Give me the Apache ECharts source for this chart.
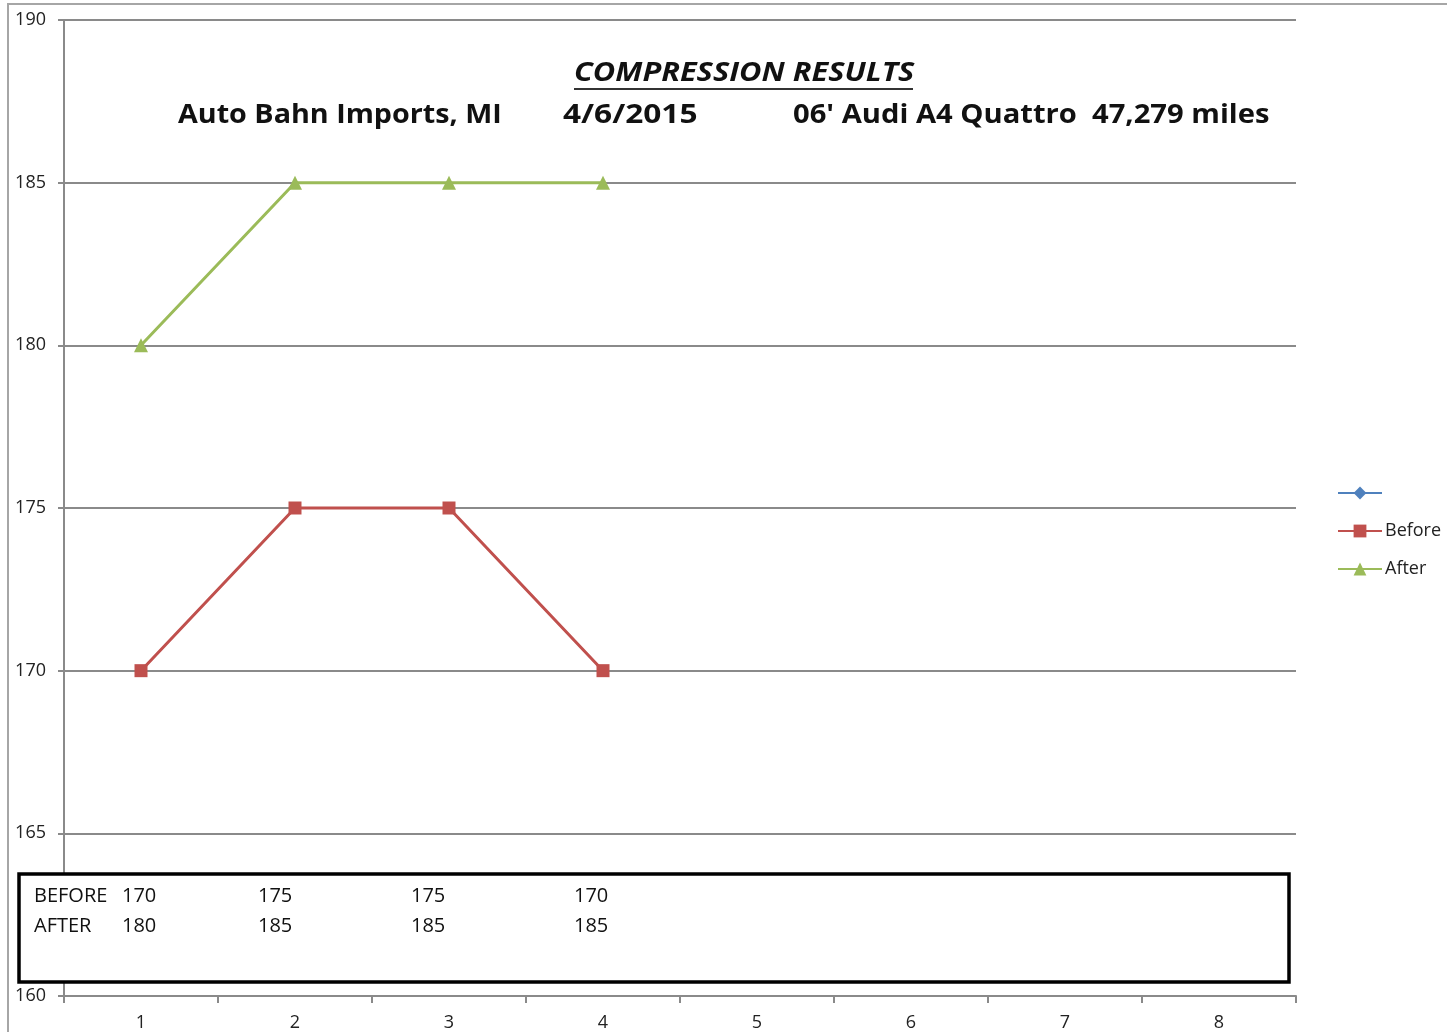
<!DOCTYPE html>
<html>
<head>
<meta charset="utf-8">
<script src="https://cdn.jsdelivr.net/npm/echarts@6/dist/echarts.min.js"></script>
<style>
  html, body { margin: 0; padding: 0; background: #fff; }
  #chart { width: 1447px; height: 1032px; }
</style>
</head>
<body>
<div id="chart"></div>
<script>
// chart data
const cylinders = ['1', '2', '3', '4', '5', '6', '7', '8'];
const beforeVals = [170, 175, 175, 170, null, null, null, null];
const afterVals = [180, 185, 185, 185, null, null, null, null];
const blankVals = [null, null, null, null, null, null, null, null];
const yTicks = { min: 160, max: 190, step: 5 };

const FONT = '"Open Sans", Lato, sans-serif';
const RED = '#C0504D', GREEN = '#9BBB59', BLUE = '#4F81BD';
const GRID = '#8a8a8a';

let myChart = echarts.init(document.getElementById('chart'));

// text of the table box under the plot
const colX = [122, 258, 411, 574];
const tfont = '20px ' + FONT;
let tableText = [
  { type: 'text', x: 34, y: 896, z: 21, style: { text: 'BEFORE', font: tfont, fill: '#111', textVerticalAlign: 'middle' } },
  { type: 'text', x: 34, y: 926, z: 21, style: { text: 'AFTER', font: tfont, fill: '#111', textVerticalAlign: 'middle' } }
];
beforeVals.forEach((v, i) => {
  if (v == null) return;
  tableText.push({ type: 'text', x: colX[i], y: 896, z: 21, style: { text: String(v), font: tfont, fill: '#111', textVerticalAlign: 'middle' } });
});
afterVals.forEach((v, i) => {
  if (v == null) return;
  tableText.push({ type: 'text', x: colX[i], y: 926, z: 21, style: { text: String(v), font: tfont, fill: '#111', textVerticalAlign: 'middle' } });
});

function heading(txt, x, y, sx, italic) {
  return {
    type: 'text', x: x, y: y, z: 10, scaleX: sx,
    style: { text: txt, font: (italic ? 'italic ' : '') + 'bold 27px ' + FONT, fill: '#111', textVerticalAlign: 'middle' }
  };
}

let option = {
  animation: false,
  backgroundColor: '#fff',
  grid: { left: 64, right: 151, top: 20, bottom: 36, containLabel: false },
  legend: {
    orient: 'vertical',
    left: 1332,
    top: 479,
    itemWidth: 44,
    itemHeight: 16,
    itemGap: 20,
    textStyle: { fontFamily: FONT, fontSize: 18, lineHeight: 16, color: '#222', padding: [0, 0, 0, -2] },
    data: [' ', 'Before', 'After']
  },
  xAxis: {
    type: 'category',
    data: cylinders,
    boundaryGap: true,
    axisLine: { lineStyle: { color: GRID, width: 2 } },
    axisTick: { show: true, length: 7, lineStyle: { color: GRID, width: 2 } },
    axisLabel: { fontFamily: FONT, fontSize: 18, color: '#222', margin: 18 }
  },
  yAxis: {
    type: 'value',
    min: yTicks.min,
    max: yTicks.max,
    interval: yTicks.step,
    axisLine: { show: true, lineStyle: { color: GRID, width: 2 } },
    axisTick: { show: true, length: 6, lineStyle: { color: GRID, width: 2 } },
    axisLabel: { fontFamily: FONT, fontSize: 18, color: '#222', margin: 18 },
    splitLine: { lineStyle: { color: GRID, width: 2 } }
  },
  series: [
    {
      name: ' ', type: 'line', data: blankVals,
      symbol: 'diamond', symbolSize: 11,
      itemStyle: { color: BLUE }, lineStyle: { color: BLUE, width: 3 }
    },
    {
      name: 'Before', type: 'line', data: beforeVals,
      symbol: 'rect', symbolSize: 13,
      itemStyle: { color: RED }, lineStyle: { color: RED, width: 3 }, z: 3
    },
    {
      name: 'After', type: 'line', data: afterVals,
      symbol: 'triangle', symbolSize: 14,
      itemStyle: { color: GREEN }, lineStyle: { color: GREEN, width: 3 }, z: 3
    }
  ],
  graphic: [
    // chart area border
    { type: 'rect', shape: { x: 8, y: 4, width: 1500, height: 1100 }, style: { fill: null, stroke: '#a6a6a6', lineWidth: 2 }, silent: true },
    // titles
    heading('COMPRESSION RESULTS', 574, 73, 1.14, true),
    { type: 'line', z: 10, shape: { x1: 574, y1: 89, x2: 913, y2: 89 }, style: { stroke: '#333', lineWidth: 2 } },
    heading('Auto Bahn Imports, MI', 178, 115, 1.063),
    heading('4/6/2015', 563, 115, 1.17),
    heading("06' Audi A4 Quattro  47,279 miles", 793, 115, 1.08),
    // data table box
    { type: 'rect', z: 20, shape: { x: 19, y: 874, width: 1270, height: 108 }, style: { fill: '#fff', stroke: '#000', lineWidth: 3.5 } }
  ].concat(tableText)
};

myChart.setOption(option);
</script>
</body>
</html>
